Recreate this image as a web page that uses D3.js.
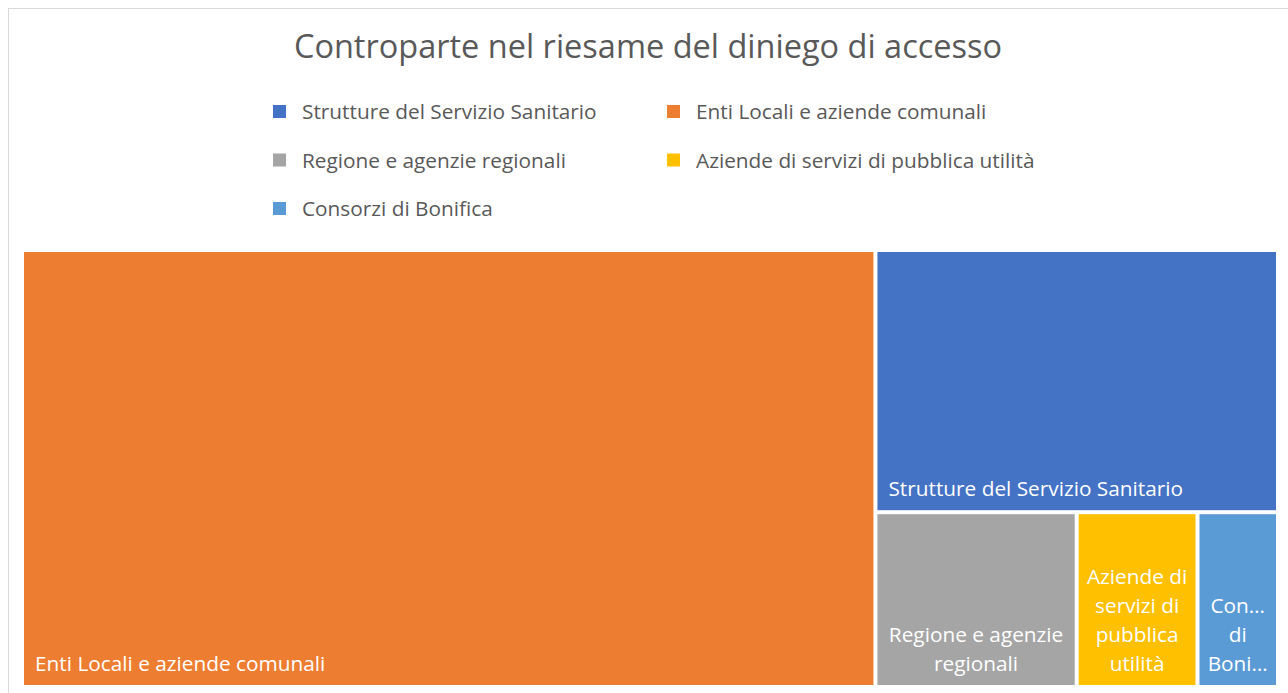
<!DOCTYPE html>
<html>
<head>
<meta charset="utf-8">
<script src="https://cdn.jsdelivr.net/npm/d3@7"></script>
<style>
    body { margin: 0; background: #fff; }
    svg { display: block; font-family: 'Open Sans', sans-serif; }
</style>
</head>
<body>
<div id="chart"></div>
<script>
const categories = [
    'Strutture del Servizio Sanitario',
    'Enti Locali e aziende comunali',
    'Regione e agenzie regionali',
    'Aziende di servizi di pubblica utilità',
    'Consorzi di Bonifica'
];
const values = [15, 53, 5, 3, 2];
const colors = ['#4472C4', '#ED7D31', '#A5A5A5', '#FFC000', '#5B9BD5'];
const title = 'Controparte nel riesame del diniego di accesso';

const width = 1288, height = 693;

const svg = d3.select('#chart')
    .append('svg')
    .attr('width', width)
    .attr('height', height);

svg.append('rect')
    .attr('x', 8.5).attr('y', 8.5)
    .attr('width', 1300).attr('height', 700)
    .attr('fill', '#fff')
    .attr('stroke', '#d9d9d9');

svg.append('text')
    .attr('x', 648).attr('y', 58)
    .attr('text-anchor', 'middle')
    .attr('fill', '#595959')
    .style('font-size', '32.5px')
    .text(title);

// legend, two per row
const legend = svg.append('g');
categories.forEach((c, i) => {
    const col = i % 2, row = Math.floor(i / 2);
    const g = legend.append('g')
        .attr('transform', `translate(${col ? 667 : 273},${112 + row * 48.5})`);
    g.append('rect')
        .attr('x', 0).attr('y', -7)
        .attr('width', 13).attr('height', 13)
        .attr('fill', colors[i]);
    g.append('text')
        .attr('x', 29).attr('y', 7)
        .attr('fill', '#595959')
        .style('font-size', '20.8px')
        .text(c);
});

// treemap
const root = d3.hierarchy({ children: categories.map((c, i) => ({ name: c, value: values[i], color: colors[i] })) })
    .sum((d) => d.value || 0)
    .sort((a, b) => b.value - a.value);

d3.treemap()
    .tile(d3.treemapBinary)
    .size([1252, 433])
    .paddingInner(4)(root);

const cells = svg.append('g')
    .attr('transform', 'translate(24,252)')
    .selectAll('g')
    .data(root.leaves())
    .enter()
    .append('g');

cells.append('rect')
    .attr('x', (d) => d.x0)
    .attr('y', (d) => d.y0)
    .attr('width', (d) => d.x1 - d.x0)
    .attr('height', (d) => d.y1 - d.y0)
    .attr('fill', (d) => d.data.color);

const fontSize = 20.8, lineH = 29;

cells.each(function (d) {
    const g = d3.select(this);
    const w = d.x1 - d.x0;
    const avail = w - 15;
    const t = g.append('text')
        .attr('fill', '#fff')
        .style('font-size', fontSize + 'px');
    const measure = (s) => {
        t.text(s);
        return t.node().getComputedTextLength();
    };
    if (measure(d.data.name) <= avail) {
        t.attr('x', d.x0 + 11).attr('y', d.y1 - 14).text(d.data.name);
        return;
    }
    // wrap centred, truncate long words
    const words = d.data.name.split(' ').map((wd) => {
        if (measure(wd) <= avail) return wd;
        let s = wd;
        while (s.length > 1 && measure(s + '…') > avail) s = s.slice(0, -1);
        return s + '…';
    });
    const lines = [];
    let cur = '';
    words.forEach((wd) => {
        const next = cur ? cur + ' ' + wd : wd;
        if (cur && measure(next) > avail) {
            lines.push(cur);
            cur = wd;
        } else cur = next;
    });
    if (cur) lines.push(cur);
    t.text(null).attr('text-anchor', 'middle');
    const cx = (d.x0 + d.x1) / 2;
    lines.forEach((l, i) => {
        t.append('tspan')
            .attr('x', cx)
            .attr('y', d.y1 - 14 - (lines.length - 1 - i) * lineH)
            .text(l);
    });
});
</script>
</body>
</html>
